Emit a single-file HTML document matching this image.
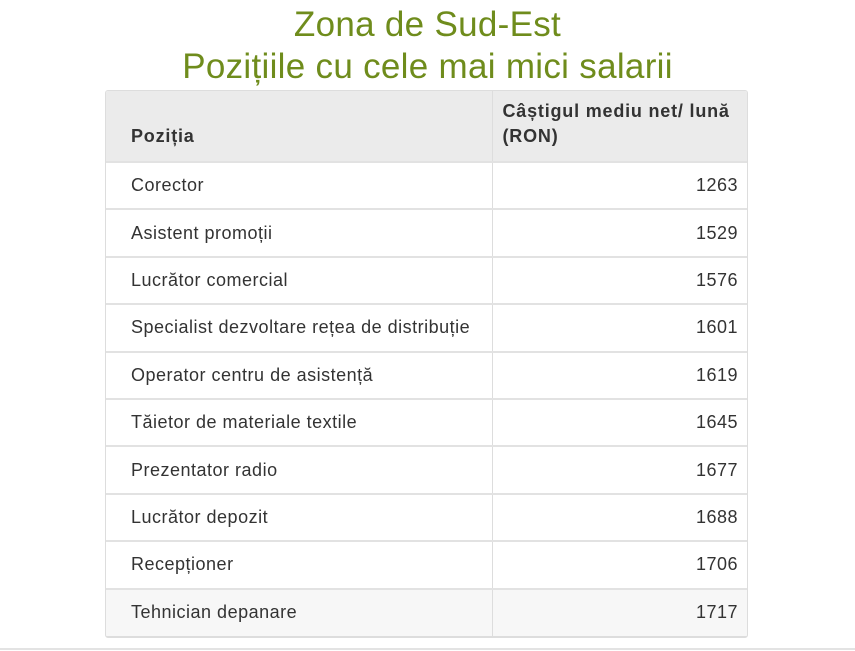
<!DOCTYPE html>
<html><head><meta charset="utf-8"><style>
body{margin:0;width:855px;height:651px;background:#fff;font-family:"Liberation Sans",sans-serif;position:relative;overflow:hidden}
h1{position:absolute;top:4px;left:0;width:855px;margin:0;text-align:center;color:#6f8c1c;font-weight:normal;font-size:35px;line-height:42px;letter-spacing:0.3px}
.tbl{position:absolute;left:105px;top:90px;width:641px;border:1px solid #ddd;border-radius:3px;overflow:hidden;border-bottom-width:2px}
table{border-collapse:collapse;width:100%;font-size:18px;color:#333;letter-spacing:0.5px}
th{background:#ebebeb;text-align:left;font-weight:bold;height:71px;vertical-align:bottom;padding:0 0 12px 25px;box-sizing:border-box;line-height:25px;letter-spacing:0.8px}
th+th{padding-left:10px;border-left:1px solid #ddd}
td{height:47.4px;box-sizing:border-box;padding:0 0 0 25px;border-top:2px solid #e2e2e2}
td+td{text-align:right;padding:0 9px 0 0;border-left:1px solid #ddd}
tr.g td{background:#f7f7f7}
.line{position:absolute;left:0;top:648px;width:855px;height:2px;background:#e3e3e3}
</style></head><body>
<h1>Zona de Sud-Est<br>Pozițiile cu cele mai mici salarii</h1>
<div class="tbl"><table>
<tr><th style="width:386px">Poziția</th><th>Câștigul mediu net/ lună (RON)</th></tr>
<tr><td>Corector</td><td>1263</td></tr>
<tr><td>Asistent promoții</td><td>1529</td></tr>
<tr><td>Lucrător comercial</td><td>1576</td></tr>
<tr><td>Specialist dezvoltare rețea de distribuție</td><td>1601</td></tr>
<tr><td>Operator centru de asistență</td><td>1619</td></tr>
<tr><td>Tăietor de materiale textile</td><td>1645</td></tr>
<tr><td>Prezentator radio</td><td>1677</td></tr>
<tr><td>Lucrător depozit</td><td>1688</td></tr>
<tr><td>Recepționer</td><td>1706</td></tr>
<tr class="g"><td>Tehnician depanare</td><td>1717</td></tr>
</table></div>
<div class="line"></div>
</body></html>
